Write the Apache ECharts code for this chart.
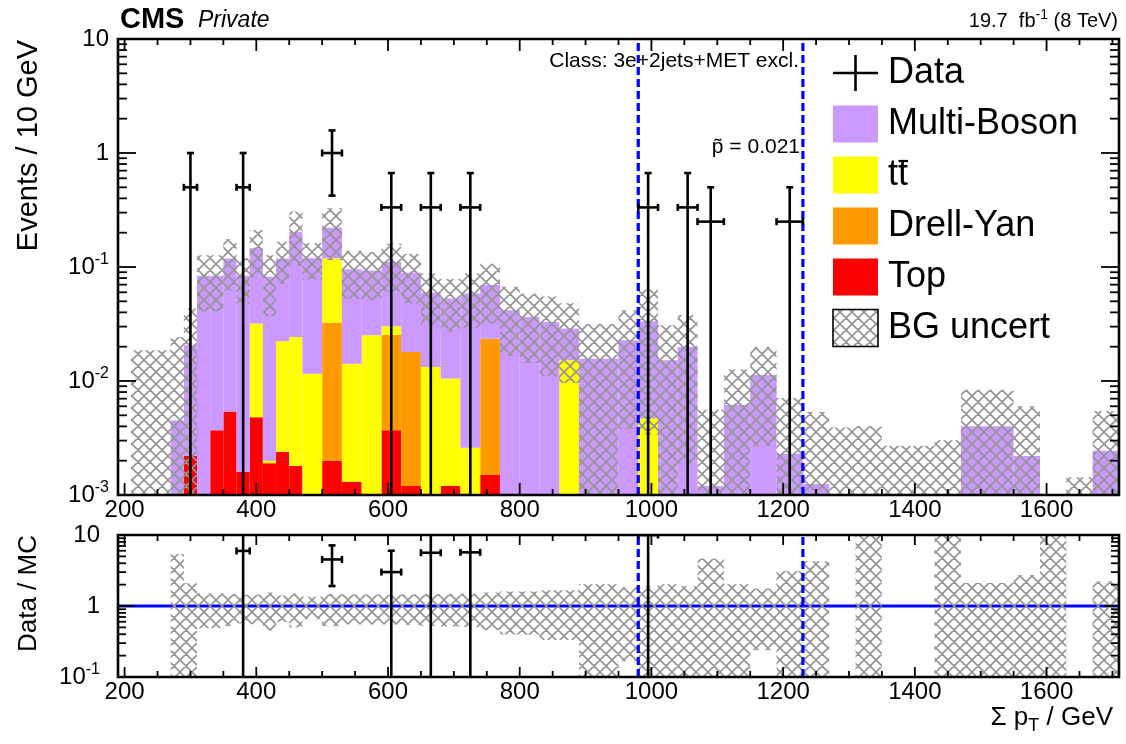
<!DOCTYPE html>
<html>
<head>
<meta charset="utf-8">
<script src="https://cdn.jsdelivr.net/npm/echarts@6/dist/echarts.min.js"></script>
<style>
  html, body { margin: 0; padding: 0; background: #fff; }
  #chart { width: 1126px; height: 744px; }
</style>
</head>
<body>
<div id="chart"></div>
<script>
// ---- histogram content (Events / 10 GeV) ----
const binEdges = [210, 270, 290, 310, 330, 350, 370, 390, 410, 430, 450, 470, 500, 530, 560, 590,
  620, 650, 680, 710, 740, 770, 800, 830, 860, 890, 950, 980, 1010, 1040, 1070, 1110, 1150,
  1190, 1230, 1270, 1310, 1350, 1430, 1470, 1550, 1590, 1630, 1670, 1710];

const bgTop = [0, 0, 0.0022, 0, 0.0037, 0.0054, 0.0016, 0.0048, 0.0019, 0.0024, 0.0018, 0, 0.0020,
  0.0013, 0, 0.0037, 0.0012, 0, 0.0012, 0, 0.0015, 0, 0, 0, 0, 0, 0, 0, 0, 0, 0, 0, 0, 0, 0, 0,
  0, 0, 0, 0, 0, 0, 0, 0];

const bgDrellYan = [0, 0, 0, 0, 0, 0, 0, 0, 0, 0, 0, 0, 0.0305, 0, 0, 0.0218, 0.0168, 0, 0, 0,
  0.0220, 0, 0, 0, 0, 0, 0, 0, 0, 0, 0, 0, 0, 0, 0, 0, 0, 0, 0, 0, 0, 0, 0, 0];

const bgTTbar = [0, 0, 0, 0, 0, 0, 0, 0.0271, 0.0001, 0.0199, 0.0225, 0.0116, 0.0865, 0.0129,
  0.0252, 0.0047, 0, 0.0133, 0.0093, 0.0026, 0, 0, 0, 0, 0.0152, 0, 0, 0.0047, 0, 0, 0, 0, 0,
  0, 0, 0, 0, 0, 0, 0, 0, 0, 0, 0];

const bgMultiBoson = [0, 0.0045, 0.0184, 0.0838, 0.0801, 0.1136, 0.0822, 0.1141, 0.0800, 0.0967,
  0.1797, 0.1084, 0.1020, 0.0815, 0.0680, 0.0808, 0.0710, 0.0460, 0.0423, 0.0559, 0.0459,
  0.0418, 0.0365, 0.0330, 0.0136, 0.0157, 0.0228, 0.0287, 0.0152, 0.0199, 0.0012, 0.0062,
  0.0113, 0.0023, 0.00125, 0, 0.00002, 0, 0.00002, 0.0040, 0.0022, 0.00005, 0, 0.00245];

const bgUncert = [0.0186, 0.0198, 0.0226, 0.043, 0.043, 0.057, 0.036, 0.065, 0.045, 0.048, 0.102,
  0.042, 0.106, 0.043, 0.042, 0.050, 0.041, 0.0284, 0.0257, 0.029, 0.0376, 0.0252, 0.0221,
  0.022, 0.0192, 0.016, 0.019, 0.030, 0.0156, 0.018, 0.0044, 0.0064, 0.0086, 0.0048, 0.0041,
  0.0039, 0.0040, 0.0027, 0.0030, 0.0044, 0.0038, 0.0006, 0.00143, 0.0030];

// observed events
const dataBinLow  = [290, 370, 500, 590, 650, 710, 980, 1040, 1070, 1190];
const dataBinHigh = [310, 390, 530, 620, 680, 740, 1010, 1070, 1110, 1230];
const dataEvents  = [1, 1, 3, 1, 1, 1, 1, 1, 1, 1];

// region of interest
const roiEdges = [980, 1230];

// axis ticks
const xTickLabels = [200, 400, 600, 800, 1000, 1200, 1400, 1600];
const mainYTicks = [0.001, 0.01, 0.1, 1, 10];
const ratioYTicks = [0.1, 1, 10];

// ---- drawing ----
const FONT = '"Liberation Sans", Arial, Helvetica, sans-serif';
const X_RANGE = [190, 1710];
const MAIN_Y = [1e-3, 10];
const RATIO_Y = [0.1, 10];
const FLOOR = 1e-7;
const PURPLE = '#cc99ff', YELLOW = '#ffff00', ORANGE = '#ff9900', RED = '#ff0000';
const BLUE = '#0000ff';

function makeHatch() {
  const c = document.createElement('canvas');
  const s = 12;
  c.width = s; c.height = s;
  const g = c.getContext('2d');
  g.strokeStyle = '#959595';
  g.lineWidth = 1.7;
  g.beginPath();
  for (const k of [-s, 0, s]) {
    g.moveTo(k, 0); g.lineTo(k + s, s);
    g.moveTo(k + s, 0); g.lineTo(k, s);
  }
  g.stroke();
  return c;
}
const hatchFill = { image: makeHatch(), repeat: 'repeat' };

function rectRenderer(fill) {
  return function (params, api) {
    const a = api.coord([api.value(0), api.value(2)]);
    const b = api.coord([api.value(1), api.value(3)]);
    return {
      type: 'rect',
      shape: { x: a[0], y: b[1], width: b[0] - a[0], height: a[1] - b[1] },
      style: { fill: fill }
    };
  };
}

// stacked backgrounds, bottom to top
const stackDefs = [
  { values: bgTop, color: RED },
  { values: bgDrellYan, color: ORANGE },
  { values: bgTTbar, color: YELLOW },
  { values: bgMultiBoson, color: PURPLE }
];
const bgTotal = binEdges.slice(1).map(() => 0);
const stackSeries = stackDefs.map(def => {
  const items = [];
  def.values.forEach((v, i) => {
    const base = bgTotal[i];
    bgTotal[i] += v;
    if (v > 0) items.push([binEdges[i], binEdges[i + 1], Math.max(base, FLOOR), bgTotal[i]]);
  });
  return {
    type: 'custom', xAxisIndex: 0, yAxisIndex: 0, clip: true, z: 2, silent: true,
    encode: { x: [0, 1], y: [2, 3] }, data: items, renderItem: rectRenderer(def.color)
  };
});

// uncertainty bands
const hatchMain = [], hatchRatio = [];
bgTotal.forEach((m, i) => {
  const u = bgUncert[i];
  const lo = binEdges[i], hi = binEdges[i + 1];
  if (u <= 0) return;
  hatchMain.push([lo, hi, Math.max(m - u, FLOOR), m + u]);
  if (m > 0) hatchRatio.push([lo, hi, Math.max(1 - u / m, FLOOR), 1 + u / m]);
});

// data points and ratio
const dataItems = [], ratioItems = [];
dataEvents.forEach((n, i) => {
  const lo = dataBinLow[i], hi = dataBinHigh[i];
  const scale = 10 / (hi - lo);
  const v = n * scale, e = Math.sqrt(n) * scale;
  dataItems.push([lo, hi, v, e]);
  const k = binEdges.indexOf(lo);
  const m = bgTotal[k];
  if (m > 0) {
    const r = v / m;
    if (r >= RATIO_Y[0] && r <= RATIO_Y[1]) ratioItems.push([lo, hi, r, e / m]);
  }
});

function errorBarRenderer(params, api) {
  const lo = api.value(0), hi = api.value(1), v = api.value(2), e = api.value(3);
  const xc = (lo + hi) / 2;
  const pL = api.coord([lo, v]), pR = api.coord([hi, v]);
  const pT = api.coord([xc, v + e]);
  const hasLow = v - e > 0;
  const pB = api.coord([xc, hasLow ? v - e : FLOOR]);
  const st = { stroke: '#000', lineWidth: 2.6 };
  const cap = 3.5;
  const L = (x1, y1, x2, y2) => ({ type: 'line', shape: { x1, y1, x2, y2 }, style: st });
  const ch = [
    L(pL[0], pL[1], pR[0], pR[1]),
    L(pT[0], pT[1], pB[0], pB[1]),
    L(pL[0], pL[1] - cap, pL[0], pL[1] + cap),
    L(pR[0], pR[1] - cap, pR[0], pR[1] + cap),
    L(pT[0] - cap, pT[1], pT[0] + cap, pT[1])
  ];
  if (hasLow) ch.push(L(pB[0] - cap, pB[1], pB[0] + cap, pB[1]));
  return { type: 'group', children: ch };
}

function roiRenderer(yRange) {
  return function (params, api) {
    const x = api.value(0);
    const a = api.coord([x, yRange[0]]), b = api.coord([x, yRange[1]]);
    return {
      type: 'line', shape: { x1: a[0], y1: a[1], x2: b[0], y2: b[1] },
      style: { stroke: BLUE, lineWidth: 3.2, lineDash: [8, 4] }
    };
  };
}

function frameRenderer(yRange, len) {
  return function (params, api) {
    const ch = [];
    const st = { stroke: '#000', lineWidth: 1.8 };
    const L = (x1, y1, x2, y2) => ch.push({ type: 'line', shape: { x1, y1, x2, y2 }, style: st });
    const p0 = api.coord([X_RANGE[0], yRange[0]]);
    const p1 = api.coord([X_RANGE[1], yRange[1]]);
    for (let v = 200; v <= X_RANGE[1]; v += 50) {
      const x = api.coord([v, yRange[0]])[0];
      const l = (v % 200 === 0) ? len.xMajor : len.xMinor;
      L(x, p0[1], x, p0[1] - l);
      L(x, p1[1], x, p1[1] + l);
    }
    const e0 = Math.round(Math.log10(yRange[0])), e1 = Math.round(Math.log10(yRange[1]));
    for (let e = e0; e < e1; e++) {
      for (let m = 1; m < 10; m++) {
        const y = api.coord([X_RANGE[0], m * Math.pow(10, e)])[1];
        const l = m === 1 ? len.yMajor : len.yMinor;
        L(p0[0], y, p0[0] + l, y);
        L(p1[0], y, p1[0] - l, y);
      }
    }
    ch.push({
      type: 'rect', shape: { x: p0[0], y: p1[1], width: p1[0] - p0[0], height: p0[1] - p1[1] },
      style: { fill: null, stroke: '#000', lineWidth: 2.6 }
    });
    return { type: 'group', children: ch };
  };
}

function logLabel(v) {
  const e = Math.round(Math.log10(v));
  if (e === 0) return '1';
  if (e === 1) return '10';
  return '10{s|' + e + '}';
}
const labelRich = { s: { fontSize: 16, fontFamily: FONT, color: '#000', padding: [0, 0, 14, 0] } };

function xAxisCfg(grid) {
  return {
    gridIndex: grid, type: 'value', min: X_RANGE[0], max: X_RANGE[1],
    axisLine: { show: false }, axisTick: { show: false }, splitLine: { show: false },
    axisLabel: {
      customValues: xTickLabels, formatter: v => String(v),
      fontSize: 24, color: '#000', fontFamily: FONT, margin: 3
    }
  };
}
function yAxisCfg(grid, range, ticks, margin) {
  return {
    gridIndex: grid, type: 'log', logBase: 10, min: range[0], max: range[1],
    axisLine: { show: false }, axisTick: { show: false }, splitLine: { show: false },
    axisLabel: {
      customValues: ticks, formatter: logLabel, rich: labelRich, showMinLabel: true, showMaxLabel: true,
      fontSize: 24, color: '#000', fontFamily: FONT, margin: margin
    }
  };
}

const legendRows = [73, 124, 175, 226, 277, 328];
const legendBoxX = 833, legendBoxW = 45, legendBoxH = 37, legendTextX = 888;
const legendFont = '36px ' + FONT;
const legendGraphics = [
  { type: 'line', shape: { x1: legendBoxX, y1: legendRows[0], x2: legendBoxX + legendBoxW, y2: legendRows[0] }, style: { stroke: '#000', lineWidth: 2.6 } },
  { type: 'line', shape: { x1: legendBoxX + legendBoxW / 2, y1: legendRows[0] - 18, x2: legendBoxX + legendBoxW / 2, y2: legendRows[0] + 18 }, style: { stroke: '#000', lineWidth: 2.6 } },
  { type: 'text', x: legendTextX, y: legendRows[0], style: { text: 'Data', font: legendFont, fill: '#000', verticalAlign: 'middle' } }
];
const legendEntries = [
  { label: 'Multi-Boson', fill: PURPLE },
  { label: 'tt', fill: YELLOW, bar: true },
  { label: 'Drell-Yan', fill: ORANGE },
  { label: 'Top', fill: RED },
  { label: 'BG uncert', fill: hatchFill, stroke: '#000' }
];
legendEntries.forEach((ent, i) => {
  const y = legendRows[i + 1];
  legendGraphics.push({
    type: 'rect', shape: { x: legendBoxX, y: y - legendBoxH / 2, width: legendBoxW, height: legendBoxH },
    style: { fill: ent.fill, stroke: ent.stroke || null, lineWidth: 1.6 }
  });
  legendGraphics.push({ type: 'text', x: legendTextX, y: y, style: { text: ent.label, font: legendFont, fill: '#000', verticalAlign: 'middle' } });
  if (ent.bar) {
    legendGraphics.push({ type: 'line', shape: { x1: legendTextX + 10.5, y1: y - 14, x2: legendTextX + 20, y2: y - 14 }, style: { stroke: '#000', lineWidth: 2.2 } });
  }
});

const textGraphics = [
  { type: 'text', x: 120, y: 20, style: { text: 'CMS', font: 'bold 29px ' + FONT, fill: '#000', verticalAlign: 'middle' } },
  { type: 'text', x: 198, y: 21, style: { text: 'Private', font: 'italic 23px ' + FONT, fill: '#000', verticalAlign: 'middle' } },
  { type: 'text', x: 1118, y: 21, style: {
      text: '19.7  fb{s|-1} (8 TeV)', font: '20px ' + FONT, fill: '#000', align: 'right', verticalAlign: 'middle',
      rich: { s: { fontSize: 14, fontFamily: FONT, fill: '#000', padding: [0, 0, 11, 0] } } } },
  { type: 'text', x: 799, y: 61, style: { text: 'Class: 3e+2jets+MET excl.', font: '21px ' + FONT, fill: '#000', align: 'right', verticalAlign: 'middle' } },
  { type: 'text', x: 800, y: 147, style: { text: 'p\u0303 = 0.021', font: '21px ' + FONT, fill: '#000', align: 'right', verticalAlign: 'middle' } },
  { type: 'text', x: 29, y: 40, rotation: Math.PI / 2, style: { text: 'Events / 10 GeV', font: '29px ' + FONT, fill: '#000', align: 'right', verticalAlign: 'middle' } },
  { type: 'text', x: 29, y: 535, rotation: Math.PI / 2, style: { text: 'Data / MC', font: '26px ' + FONT, fill: '#000', align: 'right', verticalAlign: 'middle' } },
  { type: 'text', x: 1113, y: 718, style: {
      text: '\u03a3 p{t|T} / GeV', font: '26px ' + FONT, fill: '#000', align: 'right', verticalAlign: 'middle',
      rich: { t: { fontSize: 18, fontFamily: FONT, fill: '#000', padding: [16, 0, 0, 0] } } } }
];

const chart = echarts.init(document.getElementById('chart'), null, { renderer: 'canvas' });
chart.setOption({
  animation: false,
  backgroundColor: '#fff',
  grid: [
    { left: 118, top: 39, width: 1001, height: 456, outerBoundsMode: 'none' },
    { left: 118, top: 535, width: 1001, height: 142, outerBoundsMode: 'none' }
  ],
  xAxis: [xAxisCfg(0), xAxisCfg(1)],
  yAxis: [yAxisCfg(0, MAIN_Y, mainYTicks, 9), yAxisCfg(1, RATIO_Y, ratioYTicks, 18)],
  series: [
    ...stackSeries,
    {
      type: 'custom', xAxisIndex: 0, yAxisIndex: 0, clip: true, z: 3, silent: true,
      encode: { x: [0, 1], y: [2, 3] }, data: hatchMain, renderItem: rectRenderer(hatchFill)
    },
    {
      type: 'custom', xAxisIndex: 0, yAxisIndex: 0, clip: true, z: 4, silent: true,
      encode: { x: [0] }, data: roiEdges.map(x => [x]), renderItem: roiRenderer(MAIN_Y)
    },
    {
      type: 'custom', xAxisIndex: 0, yAxisIndex: 0, clip: true, z: 5, silent: true,
      encode: { x: [0, 1], y: [2] }, data: dataItems, renderItem: errorBarRenderer
    },
    {
      type: 'custom', xAxisIndex: 0, yAxisIndex: 0, clip: false, z: 8, silent: true,
      encode: { x: [0], y: [1] }, data: [[X_RANGE[0], MAIN_Y[0]]],
      renderItem: frameRenderer(MAIN_Y, { xMajor: 12, xMinor: 6, yMajor: 18, yMinor: 9 })
    },
    {
      type: 'line', xAxisIndex: 1, yAxisIndex: 1, z: 1, silent: true, symbol: 'none',
      data: [[X_RANGE[0], 1], [X_RANGE[1], 1]], lineStyle: { color: BLUE, width: 3 }
    },
    {
      type: 'custom', xAxisIndex: 1, yAxisIndex: 1, clip: true, z: 3, silent: true,
      encode: { x: [0, 1], y: [2, 3] }, data: hatchRatio, renderItem: rectRenderer(hatchFill)
    },
    {
      type: 'custom', xAxisIndex: 1, yAxisIndex: 1, clip: true, z: 4, silent: true,
      encode: { x: [0] }, data: roiEdges.map(x => [x]), renderItem: roiRenderer(RATIO_Y)
    },
    {
      type: 'custom', xAxisIndex: 1, yAxisIndex: 1, clip: true, z: 5, silent: true,
      encode: { x: [0, 1], y: [2] }, data: ratioItems, renderItem: errorBarRenderer
    },
    {
      type: 'custom', xAxisIndex: 1, yAxisIndex: 1, clip: false, z: 8, silent: true,
      encode: { x: [0], y: [1] }, data: [[X_RANGE[0], RATIO_Y[0]]],
      renderItem: frameRenderer(RATIO_Y, { xMajor: 10, xMinor: 6, yMajor: 15, yMinor: 8 })
    }
  ],
  graphic: [...legendGraphics, ...textGraphics].map(g => Object.assign({ z: 100, silent: true }, g))
});
</script>
</body>
</html>
